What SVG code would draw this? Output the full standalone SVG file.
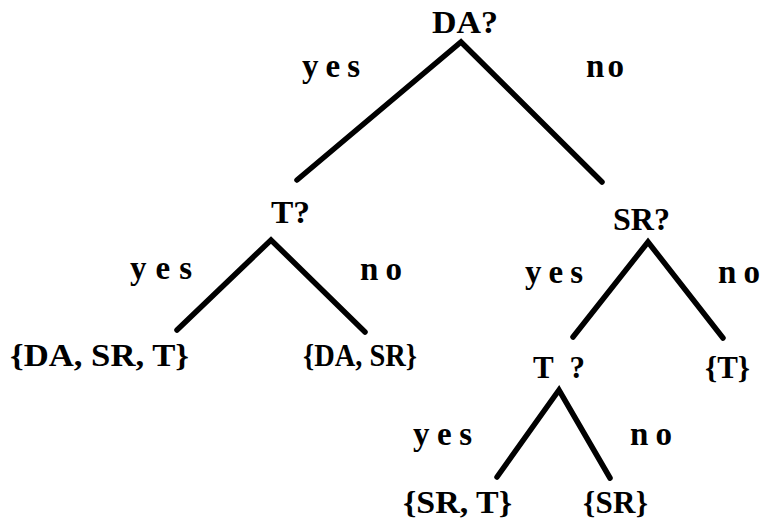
<svg xmlns="http://www.w3.org/2000/svg" width="763" height="527" viewBox="0 0 763 527">
  <style>
    .lbl { font-family: "Liberation Serif", "Times New Roman", serif; font-weight: bold; font-size: 31px; fill: #000; }
    .edge { font-family: "Liberation Serif", "Times New Roman", serif; font-weight: bold; font-size: 33px; fill: #000; }
    .branch { fill: none; stroke: #000; stroke-width: 5.5; stroke-linecap: round; stroke-linejoin: miter; }
  </style>
  <rect width="763" height="527" fill="#fff"/>

  <!-- branches and their yes/no labels -->
  <g id="connectors">
    <polyline class="branch" points="297,180 461,42 602,182"/>
    <polyline class="branch" points="177,330 271,240 365,332"/>
    <polyline class="branch" points="573,337 648,242 723,338"/>
    <polyline class="branch" points="497,477 559,390 610,478"/>
    <text class="edge" x="302" y="77" textLength="58" lengthAdjust="spacing">yes</text>
    <text class="edge" x="586" y="77" textLength="38" lengthAdjust="spacing">no</text>
    <text class="edge" x="130" y="279" textLength="62" lengthAdjust="spacing">yes</text>
    <text class="edge" x="360" y="280" textLength="42" lengthAdjust="spacing">no</text>
    <text class="edge" x="525" y="283" textLength="58" lengthAdjust="spacing">yes</text>
    <text class="edge" x="718" y="283" textLength="42" lengthAdjust="spacing">no</text>
    <text class="edge" x="413" y="445" textLength="59" lengthAdjust="spacing">yes</text>
    <text class="edge" x="630" y="445" textLength="42" lengthAdjust="spacing">no</text>
  </g>

  <g id="node-da"><text class="lbl" x="432" y="33" textLength="66" lengthAdjust="spacingAndGlyphs">DA?</text></g>
  <g id="node-t1"><text class="lbl" x="271" y="223" textLength="39" lengthAdjust="spacingAndGlyphs">T?</text></g>
  <g id="node-sr"><text class="lbl" x="613" y="230" textLength="57" lengthAdjust="spacingAndGlyphs">SR?</text></g>
  <g id="node-t2"><text class="lbl" x="533" y="378" textLength="52" lengthAdjust="spacing">T ?</text></g>
  <g id="leaf-da-sr-t"><text class="lbl" x="10" y="366" textLength="179" lengthAdjust="spacingAndGlyphs">{DA, SR, T}</text></g>
  <g id="leaf-da-sr"><text class="lbl" x="303" y="366" textLength="114" lengthAdjust="spacingAndGlyphs">{DA, SR}</text></g>
  <g id="leaf-t"><text class="lbl" x="705" y="378" textLength="45" lengthAdjust="spacingAndGlyphs">{T}</text></g>
  <g id="leaf-sr-t"><text class="lbl" x="403" y="513" textLength="109" lengthAdjust="spacingAndGlyphs">{SR, T}</text></g>
  <g id="leaf-sr"><text class="lbl" x="583" y="513" textLength="65" lengthAdjust="spacing">{SR}</text></g>
</svg>
